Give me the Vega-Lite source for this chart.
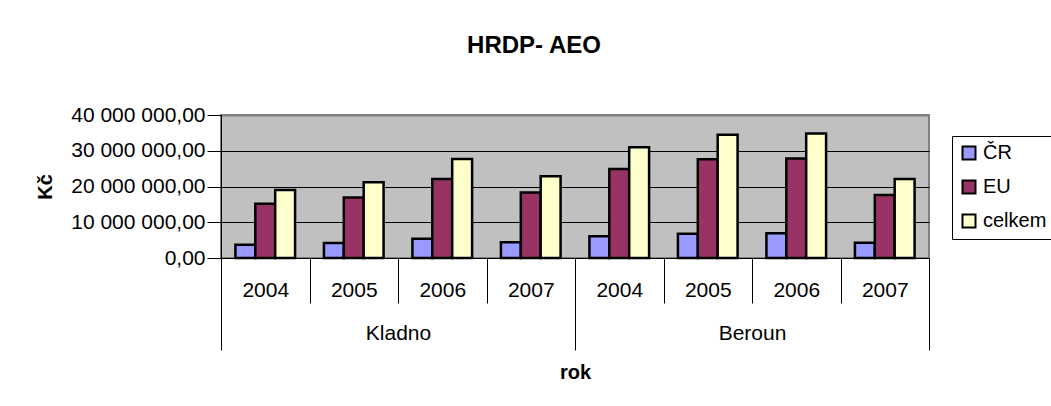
{
  "$schema": "https://vega.github.io/schema/vega-lite/v6.json",
  "padding": {"left": 35, "top": 34, "right": 0, "bottom": 0},
  "width": 708,
  "height": 143,
  "title": {"text": "HRDP- AEO", "fontSize": 24, "fontWeight": "bold", "font": "Liberation Sans", "color": "black", "anchor": "middle", "offset": 46, "dx": -41},
  "datasets": {
    "bars": [
      {"region": "Kladno", "year": "2004", "key": "Kladno 2004", "series": "ČR", "value": 3700000},
      {"region": "Kladno", "year": "2004", "key": "Kladno 2004", "series": "EU", "value": 15200000},
      {"region": "Kladno", "year": "2004", "key": "Kladno 2004", "series": "celkem", "value": 19000000},
      {"region": "Kladno", "year": "2005", "key": "Kladno 2005", "series": "ČR", "value": 4200000},
      {"region": "Kladno", "year": "2005", "key": "Kladno 2005", "series": "EU", "value": 16900000},
      {"region": "Kladno", "year": "2005", "key": "Kladno 2005", "series": "celkem", "value": 21200000},
      {"region": "Kladno", "year": "2006", "key": "Kladno 2006", "series": "ČR", "value": 5400000},
      {"region": "Kladno", "year": "2006", "key": "Kladno 2006", "series": "EU", "value": 22100000},
      {"region": "Kladno", "year": "2006", "key": "Kladno 2006", "series": "celkem", "value": 27700000},
      {"region": "Kladno", "year": "2007", "key": "Kladno 2007", "series": "ČR", "value": 4400000},
      {"region": "Kladno", "year": "2007", "key": "Kladno 2007", "series": "EU", "value": 18300000},
      {"region": "Kladno", "year": "2007", "key": "Kladno 2007", "series": "celkem", "value": 22900000},
      {"region": "Beroun", "year": "2004", "key": "Beroun 2004", "series": "ČR", "value": 6100000},
      {"region": "Beroun", "year": "2004", "key": "Beroun 2004", "series": "EU", "value": 24900000},
      {"region": "Beroun", "year": "2004", "key": "Beroun 2004", "series": "celkem", "value": 31000000},
      {"region": "Beroun", "year": "2005", "key": "Beroun 2005", "series": "ČR", "value": 6800000},
      {"region": "Beroun", "year": "2005", "key": "Beroun 2005", "series": "EU", "value": 27600000},
      {"region": "Beroun", "year": "2005", "key": "Beroun 2005", "series": "celkem", "value": 34500000},
      {"region": "Beroun", "year": "2006", "key": "Beroun 2006", "series": "ČR", "value": 6900000},
      {"region": "Beroun", "year": "2006", "key": "Beroun 2006", "series": "EU", "value": 27800000},
      {"region": "Beroun", "year": "2006", "key": "Beroun 2006", "series": "celkem", "value": 34800000},
      {"region": "Beroun", "year": "2007", "key": "Beroun 2007", "series": "ČR", "value": 4300000},
      {"region": "Beroun", "year": "2007", "key": "Beroun 2007", "series": "EU", "value": 17600000},
      {"region": "Beroun", "year": "2007", "key": "Beroun 2007", "series": "celkem", "value": 22100000}
    ],
    "regions": [
      {"region": "Kladno"},
      {"region": "Beroun"}
    ]
  },
  "layer": [
    {
      "data": {"name": "bars"},
      "mark": {"type": "bar", "stroke": "black", "strokeWidth": 2.5},
      "encoding": {
        "x": {
          "field": "key", "type": "nominal",
          "sort": ["Kladno 2004", "Kladno 2005", "Kladno 2006", "Kladno 2007", "Beroun 2004", "Beroun 2005", "Beroun 2006", "Beroun 2007"],
          "scale": {"type": "band", "paddingInner": 0, "paddingOuter": 0},
          "axis": {
            "title": null, "orient": "bottom", "labelAngle": 0,
            "labelExpr": "slice(datum.label, -4)",
            "tickBand": "extent", "tickSize": 45, "tickColor": "black", "tickWidth": 1,
            "labelPadding": -24, "labelBaseline": "top",
            "domainColor": "black", "domainWidth": 1
          }
        },
        "xOffset": {
          "field": "series", "type": "nominal", "sort": ["ČR", "EU", "celkem"],
          "scale": {"paddingInner": 0, "paddingOuter": 0.725}
        },
        "y": {
          "field": "value", "type": "quantitative",
          "scale": {"domain": [0, 40000000], "nice": false},
          "axis": {
            "title": "Kč", "values": [0, 10000000, 20000000, 30000000, 40000000],
            "format": ",.2f", "tickSize": 14, "labelPadding": 2, "titlePadding": 15,
            "tickColor": "black", "domainColor": "black",
            "grid": true,
            "gridColor": {"condition": {"test": "datum.value === 40000000", "value": "#808080"}, "value": "black"},
            "gridWidth": {"condition": {"test": "datum.value === 40000000", "value": 2}, "value": 1}
          }
        },
        "color": {
          "field": "series", "type": "nominal", "sort": ["ČR", "EU", "celkem"],
          "scale": {"domain": ["ČR", "EU", "celkem"], "range": ["#9999FF", "#993366", "#FFFFCC"]},
          "legend": {"title": null, "orient": "none", "legendX": 731, "legendY": 21}
        }
      }
    },
    {
      "data": {"name": "regions"},
      "mark": {"type": "rule", "strokeOpacity": 0},
      "encoding": {
        "x": {
          "field": "region", "type": "nominal", "sort": ["Kladno", "Beroun"],
          "scale": {"type": "band", "paddingInner": 0, "paddingOuter": 0},
          "axis": {
            "title": "rok", "orient": "bottom", "labelAngle": 0, "domain": false,
            "tickBand": "extent", "tickSize": 92, "tickColor": "black", "tickWidth": 1,
            "labelPadding": -28, "labelBaseline": "top", "titlePadding": 12
          }
        }
      }
    }
  ],
  "resolve": {"scale": {"x": "independent"}, "axis": {"x": "independent"}},
  "config": {
    "font": "Liberation Sans",
    "locale": {"number": {"decimal": ",", "thousands": " ", "grouping": [3], "currency": ["", ""]}},
    "view": {"fill": "#C0C0C0", "stroke": "#808080", "strokeWidth": 2},
    "axis": {"labelFont": "Liberation Sans", "labelFontSize": 21, "labelColor": "black", "titleFont": "Liberation Sans", "titleFontSize": 20, "titleFontWeight": "bold", "titleColor": "black"},
    "legend": {
      "strokeColor": "black", "strokeWidth": 1, "fillColor": "white", "padding": 7,
      "symbolType": "square", "symbolSize": 169, "symbolStrokeColor": "black", "symbolStrokeWidth": 2,
      "labelFont": "Liberation Sans", "labelFontSize": 20, "labelColor": "black", "labelOffset": 4, "rowPadding": 12
    }
  }
}
